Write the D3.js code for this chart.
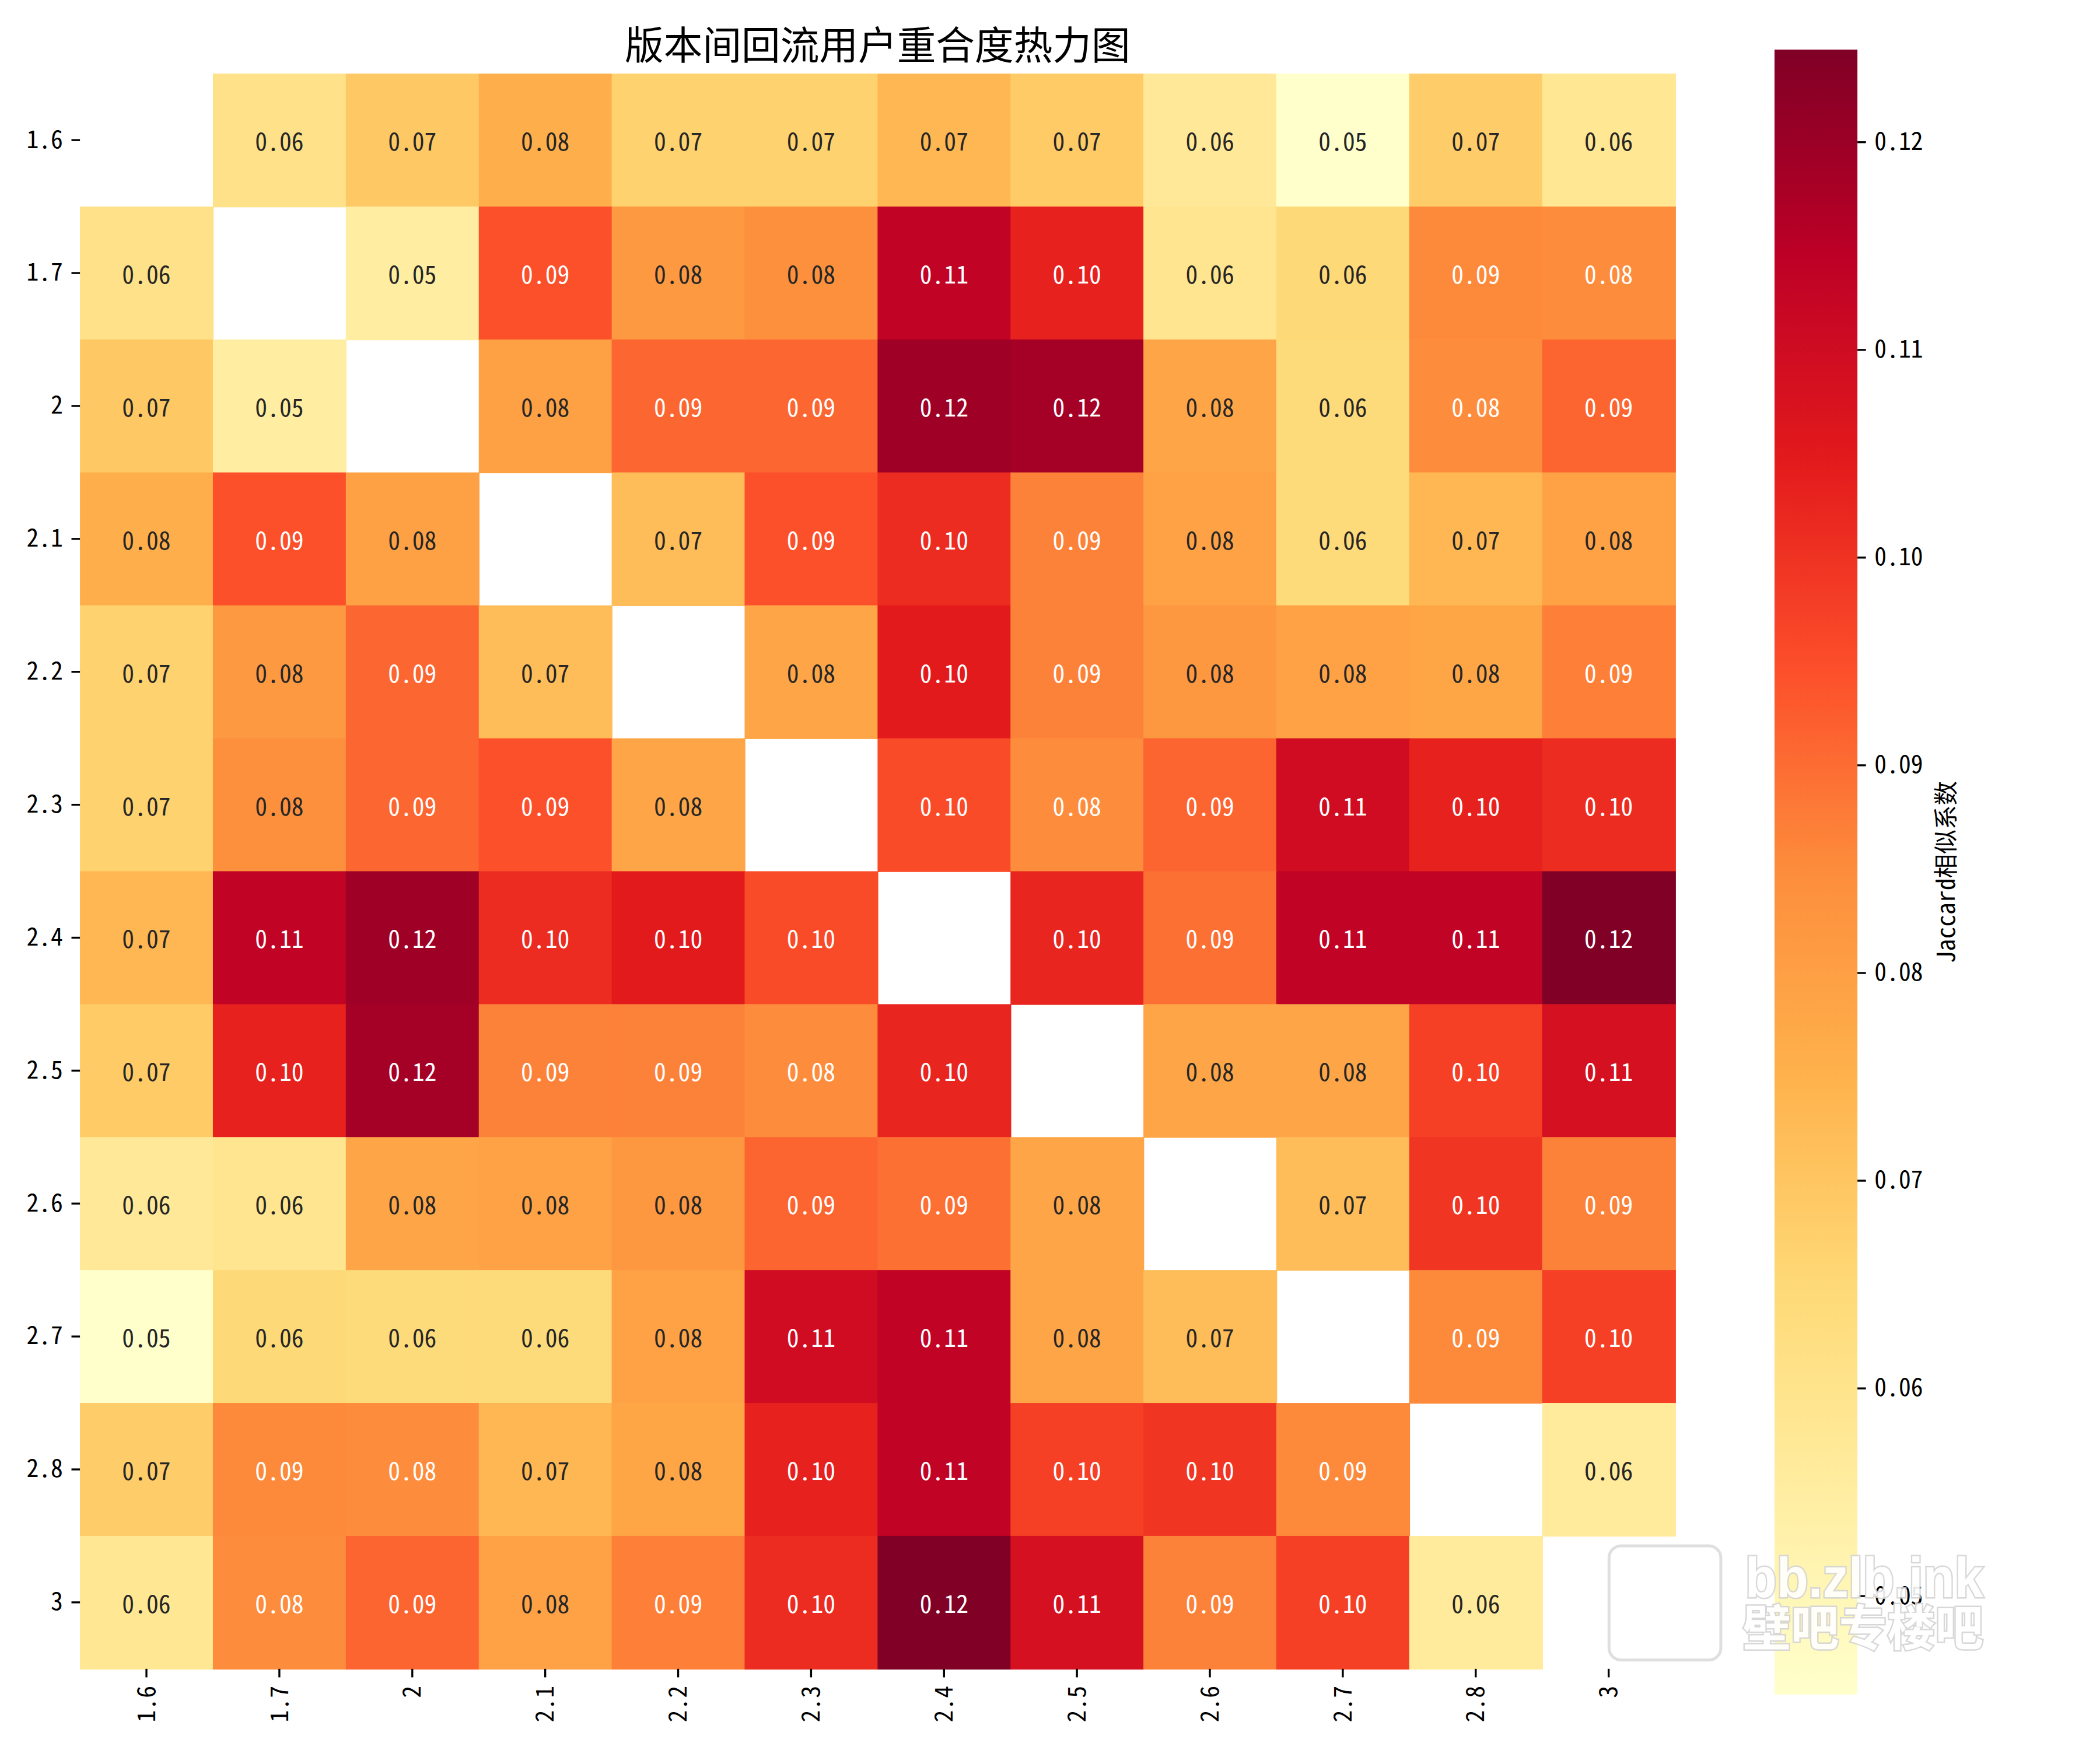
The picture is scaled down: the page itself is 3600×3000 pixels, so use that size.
<!DOCTYPE html>
<html>
<head>
<meta charset="utf-8">
<script src="https://cdn.jsdelivr.net/npm/d3@7/dist/d3.min.js"></script>
<style>
  html, body { margin: 0; padding: 0; background: #ffffff; }
  svg { display: block; }
  text { font-family: "Noto Sans Mono CJK SC", "Noto Sans CJK SC", "DejaVu Sans", sans-serif; }
  .hw { font-family: "Noto Sans CJK SC", sans-serif; font-feature-settings: "hwid" 1; }
</style>
</head>
<body>
<div id="chart"></div>
<script>
// ---------------- data ----------------
const versions = ["1.6", "1.7", "2", "2.1", "2.2", "2.3", "2.4", "2.5", "2.6", "2.7", "2.8", "3"];

const row_1_6 = [null, 0.0608, 0.0693, 0.0757, 0.0667, 0.0667, 0.0736, 0.0686, 0.0570, 0.0452, 0.0683, 0.0581];
const row_1_7 = [0.0608, null, 0.0548, 0.0944, 0.0815, 0.0840, 0.1134, 0.1032, 0.0590, 0.0648, 0.0853, 0.0848];
const row_2_0 = [0.0693, 0.0548, null, 0.0797, 0.0909, 0.0909, 0.1195, 0.1184, 0.0781, 0.0640, 0.0848, 0.0912];
const row_2_1 = [0.0757, 0.0944, 0.0797, null, 0.0721, 0.0944, 0.1011, 0.0865, 0.0792, 0.0640, 0.0736, 0.0792];
const row_2_2 = [0.0667, 0.0815, 0.0909, 0.0721, null, 0.0781, 0.1046, 0.0865, 0.0821, 0.0792, 0.0784, 0.0870];
const row_2_3 = [0.0667, 0.0840, 0.0909, 0.0944, 0.0781, null, 0.0953, 0.0848, 0.0912, 0.1099, 0.1032, 0.1011];
const row_2_4 = [0.0736, 0.1134, 0.1195, 0.1011, 0.1046, 0.0953, null, 0.1026, 0.0894, 0.1134, 0.1134, 0.1244];
const row_2_5 = [0.0686, 0.1032, 0.1184, 0.0865, 0.0865, 0.0848, 0.1026, null, 0.0781, 0.0781, 0.0974, 0.1083];
const row_2_6 = [0.0570, 0.0590, 0.0781, 0.0792, 0.0821, 0.0912, 0.0894, 0.0781, null, 0.0721, 0.0993, 0.0865];
const row_2_7 = [0.0452, 0.0648, 0.0640, 0.0640, 0.0792, 0.1099, 0.1134, 0.0781, 0.0721, null, 0.0853, 0.0974];
const row_2_8 = [0.0683, 0.0853, 0.0848, 0.0736, 0.0784, 0.1032, 0.1134, 0.0974, 0.0993, 0.0853, null, 0.0562];
const row_3_0 = [0.0581, 0.0848, 0.0912, 0.0792, 0.0870, 0.1011, 0.1244, 0.1083, 0.0865, 0.0974, 0.0562, null];

const overlap = [row_1_6, row_1_7, row_2_0, row_2_1, row_2_2, row_2_3,
                 row_2_4, row_2_5, row_2_6, row_2_7, row_2_8, row_3_0];

const colorbarTicks = [0.05, 0.06, 0.07, 0.08, 0.09, 0.10, 0.11, 0.12];
const ylOrRdColors = ["#ffffcc", "#ffeda0", "#fed976", "#feb24c", "#fd8d3c",
                      "#fc4e2a", "#e31a1c", "#bd0026", "#800026"];

const titleText = "版本间回流用户重合度热力图";
const colorbarLabel = "Jaccard相似系数";
const watermarkLine1 = "bb.zlb.ink";
const watermarkLine2 = "壁吧专楼吧";

// ---------------- layout (in points; 1pt = 300/72 px) ----------------
const W = 864, H = 720;
const heat = { x0: 32.9, x1: 689.2, y0: 30.3, y1: 686.6 };
const cbar = { x0: 730.1, x1: 764.2, y0: 20.4, y1: 697.2 };

const svg = d3.select("#chart").append("svg")
  .attr("width", 3600).attr("height", 3000)
  .attr("viewBox", `0 0 ${W} ${H}`);

svg.append("rect").attr("width", W).attr("height", H).attr("fill", "#ffffff");

const allVals = overlap.flat().filter(v => v !== null);
const vmin = d3.min(allVals), vmax = d3.max(allVals);

const color = d3.scaleLinear()
  .domain(ylOrRdColors.map((c, i) => vmin + (vmax - vmin) * i / (ylOrRdColors.length - 1)))
  .range(ylOrRdColors)
  .interpolate(d3.interpolateRgb)
  .clamp(true);

const x = d3.scaleBand().domain(versions).range([heat.x0, heat.x1]).padding(0);
const y = d3.scaleBand().domain(versions).range([heat.y0, heat.y1]).padding(0);

function relLum(c) {
  const rgb = d3.rgb(c);
  const f = v => { v = v / 255; return v <= 0.03928 ? v / 12.92 : Math.pow((v + 0.055) / 1.055, 2.4); };
  return 0.2126 * f(rgb.r) + 0.7152 * f(rgb.g) + 0.0722 * f(rgb.b);
}

const cells = [];
overlap.forEach((row, i) => row.forEach((v, j) => {
  if (v !== null) cells.push({ r: versions[i], c: versions[j], v });
}));

const g = svg.append("g");
g.selectAll("rect.cell").data(cells).join("rect")
  .attr("class", "cell")
  .attr("x", d => x(d.c))
  .attr("y", d => y(d.r))
  .attr("width", x.bandwidth() + 0.3)
  .attr("height", y.bandwidth() + 0.3)
  .attr("fill", d => color(d.v));

g.selectAll("text.annot").data(cells).join("text")
  .attr("class", "annot hw")
  .attr("x", d => x(d.c) + x.bandwidth() / 2)
  .attr("y", d => y(d.r) + y.bandwidth() / 2)
  .attr("text-anchor", "middle")
  .attr("dominant-baseline", "central")
  .attr("font-size", 10)
  .attr("fill", d => relLum(color(d.v)) > 0.408 ? "#262626" : "#ffffff")
  .text(d => d.v.toFixed(2));

// ---------------- axes ----------------
const yAxis = svg.append("g")
  .attr("transform", `translate(${heat.x0},0)`)
  .call(d3.axisLeft(y).tickSize(3.5).tickPadding(3.5));
yAxis.select(".domain").remove();
yAxis.selectAll(".tick line").attr("stroke", "#000").attr("stroke-width", 0.8);
yAxis.selectAll(".tick text").attr("class", "hw").attr("font-size", 10).attr("fill", "#000")
  .attr("font-family", null);

const xAxis = svg.append("g")
  .attr("transform", `translate(0,${heat.y1})`)
  .call(d3.axisBottom(x).tickSize(3.5).tickPadding(3.5));
xAxis.select(".domain").remove();
xAxis.selectAll(".tick line").attr("stroke", "#000").attr("stroke-width", 0.8);
xAxis.selectAll(".tick text")
  .attr("class", "hw")
  .attr("font-size", 10).attr("fill", "#000")
  .attr("x", -7).attr("y", 0).attr("dy", "0.35em")
  .attr("transform", "rotate(-90)")
  .style("text-anchor", "end");

// ---------------- title ----------------
svg.append("text")
  .attr("class", "hw")
  .attr("x", (heat.x0 + heat.x1) / 2)
  .attr("y", 24.5)
  .attr("text-anchor", "middle")
  .attr("font-size", 16)
  .attr("fill", "#000")
  .text(titleText);

// ---------------- colorbar ----------------
const defs = svg.append("defs");
const grad = defs.append("linearGradient").attr("id", "cbarGrad")
  .attr("x1", 0).attr("y1", 1).attr("x2", 0).attr("y2", 0);
grad.selectAll("stop").data(ylOrRdColors).join("stop")
  .attr("offset", (d, i) => i / (ylOrRdColors.length - 1))
  .attr("stop-color", d => d);

svg.append("rect")
  .attr("x", cbar.x0).attr("y", cbar.y0)
  .attr("width", cbar.x1 - cbar.x0).attr("height", cbar.y1 - cbar.y0)
  .attr("fill", "url(#cbarGrad)");

const cScale = d3.scaleLinear().domain([vmin, vmax]).range([cbar.y1, cbar.y0]);
const cAxis = svg.append("g")
  .attr("transform", `translate(${cbar.x1},0)`)
  .call(d3.axisRight(cScale).tickValues(colorbarTicks).tickSize(3.5).tickPadding(3.5)
        .tickFormat(d3.format(".2f")));
cAxis.select(".domain").remove();
cAxis.selectAll(".tick line").attr("stroke", "#000").attr("stroke-width", 0.8);
cAxis.selectAll(".tick text").attr("class", "hw").attr("font-size", 10).attr("fill", "#000");

svg.append("text")
  .attr("class", "hw")
  .attr("transform", `translate(800,${(cbar.y0 + cbar.y1) / 2}) rotate(-90)`)
  .attr("text-anchor", "middle")
  .attr("dominant-baseline", "central")
  .attr("font-size", 10)
  .attr("fill", "#000")
  .text(colorbarLabel);

// ---------------- watermark ----------------
const wm = svg.append("g").attr("opacity", 0.9);
wm.append("rect")
  .attr("x", 662).attr("y", 636).attr("width", 46).attr("height", 47)
  .attr("rx", 5).attr("fill", "none")
  .attr("stroke", "#dcdcdc").attr("stroke-width", 1.2);
wm.append("text")
  .attr("x", 718).attr("y", 657)
  .attr("font-size", 23).attr("font-weight", "bold")
  .attr("textLength", 98).attr("lengthAdjust", "spacingAndGlyphs")
  .attr("fill", "#ffffff").attr("stroke", "#d4d4d4").attr("stroke-width", 1.2)
  .attr("paint-order", "stroke")
  .style("font-family", '"Liberation Sans", "DejaVu Sans", sans-serif')
  .text(watermarkLine1);
wm.append("text")
  .attr("x", 717).attr("y", 677)
  .attr("font-size", 20).attr("font-weight", "bold")
  .attr("textLength", 99).attr("lengthAdjust", "spacingAndGlyphs")
  .attr("fill", "#ffffff").attr("stroke", "#d4d4d4").attr("stroke-width", 1.2)
  .attr("paint-order", "stroke")
  .style("font-family", '"Noto Sans CJK SC", sans-serif')
  .text(watermarkLine2);
</script>
</body>
</html>
